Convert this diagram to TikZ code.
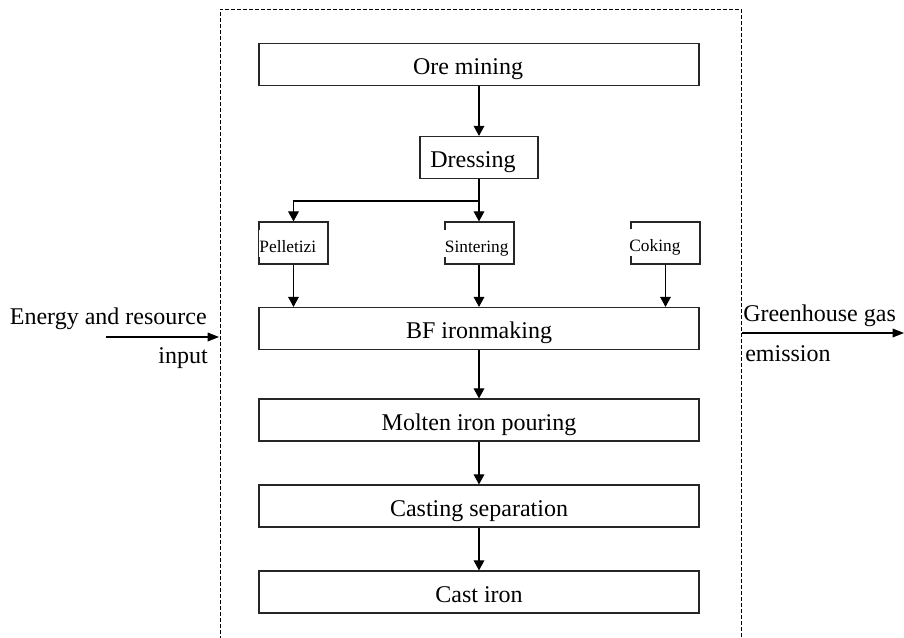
\documentclass[tikz,border=0pt]{standalone}
\usepackage{fontspec}
\setmainfont{Liberation Serif}
\usetikzlibrary{arrows.meta}

\begin{document}
\begin{tikzpicture}[
  x=0.75pt, y=-0.75pt,
  mainfont/.style={font=\fontsize{18}{20}\selectfont},
  smallfont/.style={font=\fontsize{13}{15}\selectfont},
  stagebox/.style={mainfont, draw=black!85, line width=0.9pt, inner xsep=0pt, inner ysep=0pt,
    text height=23.25pt, text depth=8.25pt, minimum width=330pt},
  dressbox/.style={stagebox, minimum width=88.5pt},
  feedbox/.style={draw=black!85, line width=0.9pt, inner sep=0pt, minimum width=51.75pt, minimum height=31.5pt},
  feedtext/.style={smallfont, fill=white, inner xsep=0.5pt, inner ysep=0pt, text height=16.5pt, text depth=3.75pt, anchor=base west},
  flow/.style={line width=0.8pt, -{Triangle[length=7.5pt,width=8pt]}},
  plain/.style={line width=0.8pt},
  sidearrow/.style={line width=0.9pt, -{Triangle[length=8.5pt,width=6.5pt]}},
  boundary/.style={line width=0.7pt, dash pattern=on 3pt off 1.5pt},
  sidetext/.style={mainfont, inner sep=0pt}
]
\useasboundingbox (0,0) rectangle (904,637);

% system boundary (open towards the bottom)
\draw[boundary] (220,640) -- (220,9) -- (741,9) -- (741,640);

% process chain
\node[stagebox] (ore) at (479,64.5) {Ore mining\hspace*{16.5pt}};
\node[dressbox] (dress) at (479,157.5) {Dressing\hspace*{9pt}};

\node[feedbox] (pel) at (293.5,243) {};
\node[feedbox] (sin) at (479.5,243) {};
\node[feedbox] (cok) at (665.5,243) {};
\node[feedtext] (peltext) at (258.5,252) {Pelletizi};
\node[feedtext] (sintext) at (444,252) {Sintering};
\node[feedtext] (coktext) at (628.5,251) {Coking};

\node[stagebox] (bf) at (479,328.5) {BF ironmaking};
\node[stagebox] (molten) at (479,420) {Molten iron pouring};
\node[stagebox] (casting) at (479,506) {Casting separation};
\node[stagebox] (cast) at (479,592) {Cast iron};

% connectors
\coordinate (split) at (479,201);
\draw[flow] (ore.south) -- (dress.north);
\draw[plain] (dress.south) -- (split);
\draw[flow] (split) -| (pel.north);
\draw[flow] (split) -- (sin.north -| split);
\draw[flow] (pel.south) -- (pel.south |- bf.north);
\draw[flow] (sin.south -| split) -- (bf.north -| split);
\draw[flow] (cok.south) -- (cok.south |- bf.north);
\draw[flow] (bf.south) -- (molten.north);
\draw[flow] (molten.south) -- (casting.north);
\draw[flow] (casting.south) -- (cast.north);

% inputs and outputs across the boundary
\coordinate (inStart) at (106,337);
\coordinate (inEnd) at (219,337);
\draw[sidearrow] (inStart) -- (inEnd);
\node[sidetext, anchor=base east] (energy) at (207,324) {Energy and resource};
\node[sidetext, anchor=base east] (input) at (208,363) {input};

\coordinate (outStart) at (742,333);
\coordinate (outEnd) at (904,333);
\draw[sidearrow] (outStart) -- (outEnd);
\node[sidetext, anchor=base west] (ghg) at (743,321) {Greenhouse gas};
\node[sidetext, anchor=base west] (emission) at (745,361) {emission};
\end{tikzpicture}
\end{document}
